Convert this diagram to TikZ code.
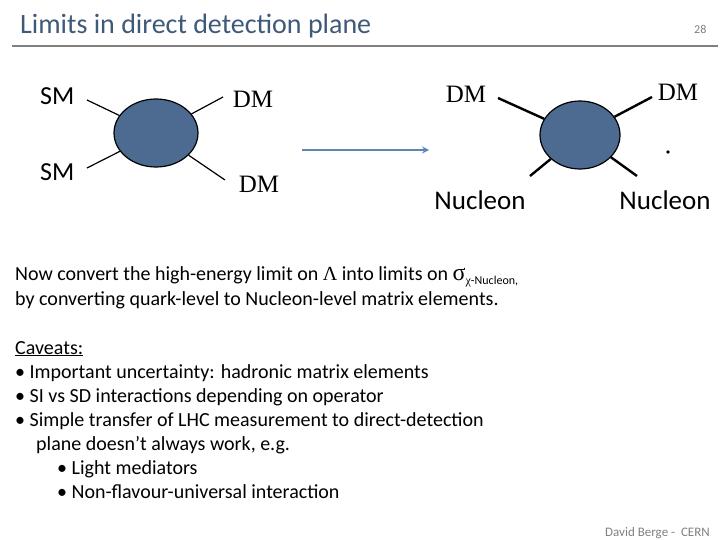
\documentclass[tikz,border=0pt]{standalone}
\usepackage{fontspec}
\usetikzlibrary{shapes.geometric}
\setmainfont{Carlito}
\newfontfamily\tms{Liberation Serif}
\begin{document}
\begin{tikzpicture}[x=1pt,y=-1pt,
  blob/.style={ellipse,draw=black,line width=1.2pt,fill=blobc,minimum width=84pt,minimum height=68pt,inner sep=0pt},
  lbl/.style={inner sep=0pt,anchor=base west},
  dm/.style={font=\tms\fontsize{25}{25}\selectfont,inner sep=0pt},
  leg/.style={line width=1.2pt},
  legR/.style={line width=2.4pt},
  body/.style={font=\fontsize{20}{24}\selectfont,inner sep=0pt,anchor=base west}]
\definecolor{blobc}{HTML}{4D6A90}
\definecolor{titlec}{HTML}{3F5A78}
\definecolor{arrc}{HTML}{5C86B8}
\useasboundingbox (0,0) rectangle (720,540);
\fill[white] (0,0) rectangle (720,540);
\node[lbl,font=\fontsize{28}{30}\selectfont,text=titlec] (title) at (20,34) {Limits in direct detection plane};
\node[lbl,font=\fontsize{12}{13}\selectfont,text=gray] (pg) at (694,34) {28};
\draw[gray,line width=2.2pt] (12,46) -- (718,46);
% left diagram
\node[blob] (b1) at (156,133) {};
\node[lbl,font=\fontsize{26}{28}\selectfont] (sm1) at (40,105) {SM};
\node[lbl,font=\fontsize{26}{28}\selectfont] (sm2) at (40,181) {SM};
\node[dm] (dm1) at (253,99) {DM};
\node[dm] (dm2) at (259,184) {DM};
\coordinate (p1) at (87,100);
\coordinate (p2) at (87,168);
\coordinate (p3) at (223,97);
\coordinate (p4) at (225,180);
\draw[leg] (p1) -- (b1);
\draw[leg] (p2) -- (b1);
\draw[leg] (p3) -- (b1);
\draw[leg] (p4) -- (b1);
% arrow
\coordinate (a1) at (302,150);
\coordinate (a2) at (429,150);
\draw[arrc,line width=2pt,-stealth] (a1) -- (a2);
% right diagram
\node[blob,minimum width=80pt] (b2) at (580,135) {};
\node[dm] (dm3) at (466,94) {DM};
\node[dm] (dm4) at (678,92) {DM};
\coordinate (q1) at (498,98);
\coordinate (q2) at (652,97);
\coordinate (q3) at (530,176);
\coordinate (q4) at (637,176);
\draw[legR] (q1) -- (b2);
\draw[legR] (q2) -- (b2);
\draw[legR] (q3) -- (b2);
\draw[legR] (q4) -- (b2);
\fill (668,152) circle (1.8pt);
\node[font=\fontsize{27}{28}\selectfont,inner sep=0pt] (n1) at (480,200) {Nucleon};
\node[font=\fontsize{27}{28}\selectfont,inner sep=0pt] (n2) at (665,200) {Nucleon};
% text
\node[body] (t1) at (15,280) {Now convert the high-energy limit on {\tms Λ} into limits on {\tms\fontsize{24}{24}\selectfont σ}\raisebox{-4pt}{\fontsize{12}{12}\selectfont{\tms χ}-Nucleon,}};
\node[body] (t2) at (15,305) {by converting quark-level to Nucleon-level matrix elements.};
\node[body] (c0) at (15,354) {\underline{Caveats:}};
\node[body] (c1) at (15,378) {•\ Important uncertainty: hadronic matrix elements};
\node[body] (c2) at (15,402) {•\ SI vs SD interactions depending on operator};
\node[body] (c3) at (15,426) {•\ Simple transfer of LHC measurement to direct-detection};
\node[body] (c4) at (36,450) {plane doesn’t always work, e.g.};
\node[body] (c5) at (57,474) {•\ Light mediators};
\node[body] (c6) at (57,498) {•\ Non-flavour-universal interaction};
\node[lbl,font=\fontsize{13}{15}\selectfont,text=gray] (ft) at (605,536) {David Berge -\ \ CERN};
\end{tikzpicture}
\end{document}
